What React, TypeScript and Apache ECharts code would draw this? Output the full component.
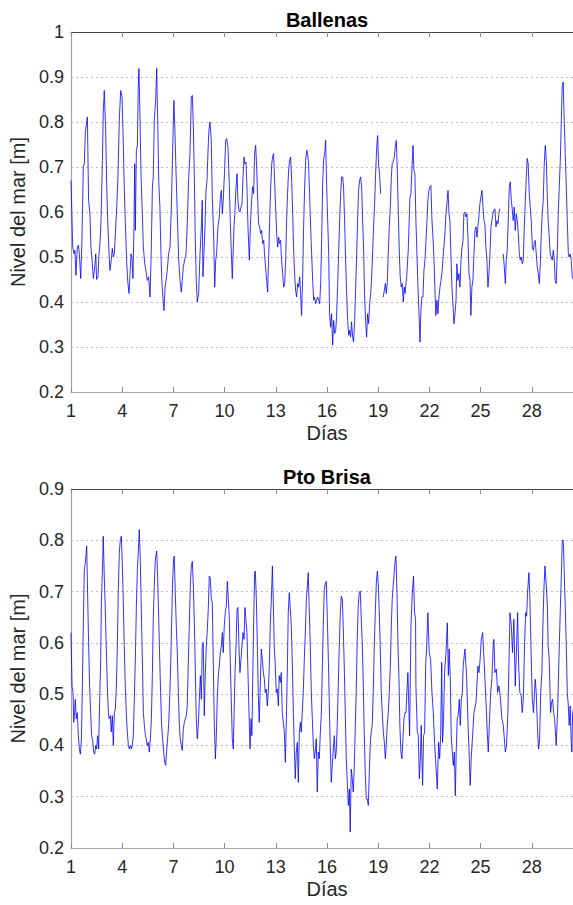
import React, { useEffect, useRef } from 'react';
import * as echarts from 'echarts';

const xTickDays = [1, 4, 7, 10, 13, 16, 19, 22, 25, 28];
const titles = ['Ballenas', 'Pto Brisa'];
const xName = 'Días';
const yName = 'Nivel del mar [m]';
const yRangeBallenas = [0.2, 1.0];
const yRangePtoBrisa = [0.2, 0.9];
const dayRange = [1, 31];

// [day, sea level (m)]; null level = gap in the record
const ballenas: [number, number | null][] = [
[1.00,0.670],[1.10,0.522],[1.18,0.507],[1.23,0.515],[1.29,0.459],[1.37,0.522],[1.43,0.526],[1.49,0.507],[1.57,0.452],[1.64,0.537],[1.72,0.700],[1.78,0.707],[1.84,0.778],[1.92,0.800],[1.96,0.811],[2.03,0.626],[2.11,0.596],[2.17,0.522],[2.25,0.485],[2.31,0.452],[2.39,0.478],[2.45,0.507],[2.50,0.450],[2.58,0.456],[2.64,0.507],[2.70,0.530],[2.76,0.581],[2.84,0.715],[2.89,0.822],[2.95,0.870],[3.03,0.781],[3.09,0.663],[3.15,0.581],[3.23,0.507],[3.28,0.470],[3.36,0.493],[3.42,0.519],[3.48,0.500],[3.54,0.507],[3.62,0.567],[3.68,0.611],[3.75,0.678],[3.83,0.804],[3.91,0.870],[3.99,0.856],[4.07,0.744],[4.12,0.656],[4.18,0.581],[4.26,0.493],[4.32,0.448],[4.40,0.419],[4.46,0.463],[4.52,0.507],[4.57,0.500],[4.63,0.452],[4.69,0.567],[4.73,0.707],[4.77,0.559],[4.83,0.737],[4.89,0.748],[4.94,0.878],[4.98,0.919],[5.04,0.819],[5.10,0.685],[5.18,0.596],[5.24,0.522],[5.32,0.485],[5.39,0.470],[5.47,0.448],[5.55,0.456],[5.63,0.411],[5.69,0.493],[5.77,0.656],[5.82,0.678],[5.88,0.804],[5.96,0.848],[6.02,0.919],[6.08,0.804],[6.14,0.670],[6.21,0.611],[6.27,0.507],[6.33,0.441],[6.39,0.407],[6.45,0.381],[6.51,0.433],[6.57,0.448],[6.64,0.470],[6.72,0.507],[6.80,0.522],[6.88,0.611],[6.96,0.744],[7.03,0.848],[7.09,0.781],[7.15,0.693],[7.23,0.596],[7.31,0.493],[7.39,0.448],[7.46,0.422],[7.52,0.448],[7.58,0.478],[7.66,0.493],[7.74,0.507],[7.82,0.581],[7.89,0.670],[7.97,0.730],[8.05,0.856],[8.11,0.859],[8.17,0.789],[8.23,0.670],[8.28,0.544],[8.34,0.448],[8.40,0.400],[8.48,0.419],[8.56,0.507],[8.64,0.567],[8.69,0.626],[8.73,0.456],[8.79,0.507],[8.85,0.567],[8.91,0.648],[8.97,0.670],[9.03,0.737],[9.08,0.781],[9.14,0.800],[9.22,0.759],[9.28,0.633],[9.36,0.544],[9.42,0.433],[9.48,0.493],[9.53,0.507],[9.61,0.567],[9.69,0.589],[9.75,0.633],[9.81,0.648],[9.87,0.596],[9.92,0.626],[10.00,0.693],[10.06,0.759],[10.12,0.763],[10.20,0.744],[10.28,0.656],[10.33,0.581],[10.39,0.515],[10.45,0.452],
[10.55,0.567],[10.61,0.604],[10.67,0.656],[10.73,0.685],[10.78,0.626],[10.84,0.604],[10.90,0.600],[10.96,0.611],[11.02,0.619],[11.08,0.678],[11.14,0.722],[11.19,0.707],[11.25,0.711],[11.31,0.656],[11.37,0.567],[11.45,0.493],[11.51,0.567],[11.56,0.611],[11.64,0.656],[11.70,0.641],[11.76,0.730],[11.82,0.748],[11.88,0.700],[11.94,0.626],[11.99,0.574],[12.05,0.567],[12.11,0.552],[12.17,0.559],[12.23,0.530],[12.29,0.537],[12.35,0.500],[12.40,0.478],[12.46,0.448],[12.52,0.422],[12.58,0.493],[12.64,0.581],[12.70,0.656],[12.76,0.707],[12.81,0.722],[12.87,0.730],[12.93,0.670],[12.99,0.611],[13.05,0.552],[13.11,0.522],[13.17,0.544],[13.22,0.530],[13.28,0.537],[13.34,0.493],[13.40,0.463],[13.46,0.433],[13.52,0.441],[13.58,0.493],[13.63,0.581],[13.69,0.641],[13.75,0.693],[13.81,0.715],[13.87,0.722],[13.93,0.670],[13.99,0.596],[14.04,0.522],[14.10,0.463],[14.16,0.426],[14.22,0.411],[14.28,0.441],[14.34,0.433],[14.40,0.456],[14.45,0.419],[14.51,0.370],[14.57,0.448],[14.63,0.567],[14.69,0.656],[14.75,0.715],[14.81,0.737],[14.86,0.730],[14.92,0.707],[14.98,0.641],[15.04,0.567],[15.10,0.507],[15.16,0.448],[15.22,0.404],[15.27,0.411],[15.33,0.396],[15.39,0.404],[15.45,0.411],[15.51,0.404],[15.57,0.396],[15.63,0.441],[15.69,0.544],[15.74,0.656],[15.80,0.715],[15.86,0.730],[15.92,0.759],[15.98,0.656],[16.04,0.581],[16.10,0.507],[16.15,0.374],[16.21,0.344],[16.27,0.374],[16.33,0.304],[16.39,0.359],[16.45,0.330],[16.51,0.337],[16.56,0.367],[16.62,0.433],[16.68,0.507],[16.74,0.581],[16.80,0.641],[16.86,0.678],[16.92,0.678],[16.97,0.656],[17.03,0.581],[17.09,0.493],[17.15,0.419],[17.21,0.359],[17.27,0.326],[17.33,0.337],[17.38,0.322],[17.44,0.356],[17.50,0.322],[17.56,0.311],[17.62,0.359],[17.68,0.433],[17.74,0.507],[17.79,0.581],[17.85,0.648],[17.91,0.670],[17.97,0.678],[18.03,0.656],[18.09,0.581],[18.15,0.507],[18.20,0.419],[18.26,0.359],[18.32,0.322],[18.38,0.374],[18.44,0.352],[18.50,0.396],[18.56,0.419],[18.61,0.448],[18.67,0.507],[18.73,0.567],[18.79,0.619],[18.85,0.685],[18.91,0.744],[18.97,0.770],[19.02,0.707],[19.08,0.685],[19.14,0.641],[19.22,null],[19.30,0.411],[19.36,0.426],[19.42,0.441],[19.47,0.419],[19.53,0.441],[19.59,0.507],[19.65,0.567],[19.71,0.611],[19.77,0.678],[19.82,0.707],[19.88,0.711],[19.94,0.722],[20.00,0.744],[20.06,0.759],[20.12,0.693],[20.18,0.596],[20.24,0.507],[20.29,0.456],[20.35,0.433],[20.41,0.441],[20.47,0.400],[20.53,0.433],
[20.57,0.419],[20.67,0.456],[20.76,0.515],[20.86,0.633],[20.92,0.641],[20.98,0.700],[21.04,0.748],[21.09,0.693],[21.15,0.685],[21.21,0.581],[21.27,0.507],[21.33,0.433],[21.39,0.374],[21.45,0.311],[21.50,0.381],[21.56,0.411],[21.62,0.411],[21.68,0.470],[21.74,0.493],[21.80,0.537],[21.86,0.581],[21.91,0.626],[21.97,0.648],[22.03,0.656],[22.09,0.659],[22.15,0.581],[22.21,0.544],[22.27,0.493],[22.32,0.433],[22.38,0.370],[22.44,0.404],[22.50,0.374],[22.56,0.411],[22.62,0.433],[22.68,0.448],[22.73,0.463],[22.79,0.493],[22.85,0.522],[22.91,0.552],[22.97,0.596],[23.03,0.619],[23.09,0.648],[23.15,0.596],[23.20,0.581],[23.26,0.507],[23.32,0.433],[23.38,0.396],[23.44,0.352],[23.50,0.374],[23.56,0.404],[23.61,0.485],[23.67,0.448],[23.73,0.463],[23.79,0.433],[23.85,0.493],[23.91,0.522],[23.97,0.537],[24.02,0.596],[24.08,0.600],[24.14,0.589],[24.20,0.596],[24.26,0.544],[24.32,0.463],[24.38,0.448],[24.43,0.370],[24.49,0.433],[24.55,0.448],[24.61,0.507],[24.67,0.559],[24.73,0.567],[24.79,0.544],[24.84,0.567],[24.90,0.589],[24.96,0.619],[25.02,0.633],[25.08,0.648],[25.14,0.611],[25.20,0.581],[25.25,0.574],[25.31,0.522],[25.37,0.493],[25.43,0.433],[25.49,0.463],[25.55,0.507],[25.61,0.567],[25.66,0.581],[25.72,0.596],[25.78,0.604],[25.84,0.607],[25.90,0.567],[25.96,0.581],[26.02,0.574],[26.07,0.596],[26.13,0.607],[26.23,null],[26.33,0.507],[26.39,0.478],[26.45,0.441],[26.50,0.493],[26.56,0.515],[26.62,0.581],[26.68,0.656],[26.74,0.667],[26.80,0.626],[26.86,0.604],[26.91,0.581],[26.97,0.611],[27.03,0.559],[27.09,0.596],[27.15,0.581],[27.21,0.552],[27.27,0.507],[27.32,0.493],[27.38,0.500],[27.44,0.485],[27.50,0.493],[27.56,0.567],[27.62,0.626],[27.68,0.678],[27.73,0.719],[27.79,0.707],[27.85,0.641],[27.91,0.611],[27.97,0.581],[28.03,0.522],[28.09,0.515],[28.14,0.530],[28.20,0.537],[28.26,0.507],[28.32,0.478],[28.38,0.463],[28.44,0.441],[28.50,0.485],[28.55,0.544],[28.61,0.596],[28.67,0.626],[28.73,0.707],[28.79,0.748],[28.85,0.715],[28.91,0.633],[28.96,0.581],[29.02,0.544],[29.08,0.507],[29.14,0.500],[29.20,0.493],[29.26,0.515],[29.32,0.493],[29.37,0.448],[29.43,0.441],[29.49,0.507],[29.55,0.596],[29.61,0.656],[29.67,0.715],[29.73,0.804],[29.78,0.878],[29.84,0.889],[29.90,0.804],[29.96,0.730],[30.02,0.656],[30.08,0.581],[30.14,0.507],[30.19,0.500],[30.25,0.507],[30.31,0.493],[30.37,0.456],[30.45,0.450]
];

const ptoBrisa: [number, number | null][] = [
[1.00,0.620],[1.06,0.516],[1.12,0.503],[1.16,0.445],[1.21,0.464],[1.25,0.490],[1.31,0.452],[1.37,0.464],[1.43,0.419],[1.49,0.393],[1.55,0.383],[1.61,0.413],[1.66,0.503],[1.72,0.633],[1.78,0.743],[1.84,0.756],[1.92,0.789],[1.98,0.685],[2.03,0.601],[2.09,0.516],[2.15,0.464],[2.21,0.419],[2.27,0.409],[2.33,0.387],[2.39,0.383],[2.45,0.400],[2.50,0.393],[2.56,0.419],[2.62,0.393],[2.68,0.490],[2.74,0.568],[2.78,0.678],[2.82,0.678],[2.86,0.763],[2.89,0.808],[2.95,0.730],[3.01,0.665],[3.07,0.588],[3.13,0.516],[3.19,0.464],[3.24,0.452],[3.30,0.458],[3.36,0.426],[3.42,0.458],[3.48,0.400],[3.54,0.464],[3.60,0.471],[3.66,0.516],[3.72,0.601],[3.77,0.698],[3.83,0.776],[3.89,0.801],[3.95,0.808],[4.01,0.750],[4.07,0.672],[4.12,0.594],[4.18,0.516],[4.24,0.464],[4.30,0.426],[4.36,0.400],[4.42,0.393],[4.48,0.400],[4.54,0.393],[4.59,0.400],[4.65,0.419],[4.71,0.490],[4.77,0.568],[4.83,0.672],[4.89,0.743],[4.94,0.776],[5.00,0.821],[5.06,0.763],[5.12,0.665],[5.18,0.568],[5.24,0.464],[5.30,0.439],[5.36,0.419],[5.41,0.413],[5.47,0.400],[5.53,0.406],[5.59,0.387],[5.65,0.413],[5.71,0.452],[5.77,0.542],[5.82,0.646],[5.88,0.711],[5.94,0.763],[6.02,0.779],[6.08,0.724],[6.14,0.646],[6.19,0.581],[6.25,0.503],[6.31,0.439],[6.37,0.413],[6.43,0.387],[6.49,0.367],[6.55,0.361],[6.60,0.387],[6.66,0.413],[6.72,0.439],[6.78,0.490],[6.84,0.555],[6.90,0.646],[6.96,0.724],[7.01,0.763],[7.05,0.769],[7.11,0.698],[7.17,0.633],[7.23,0.581],[7.29,0.503],[7.35,0.439],[7.40,0.413],[7.46,0.400],[7.52,0.390],[7.58,0.432],[7.64,0.445],[7.70,0.452],[7.76,0.458],[7.81,0.477],[7.87,0.555],[7.93,0.633],[7.99,0.711],[8.05,0.750],[8.11,0.759],[8.17,0.711],[8.23,0.633],[8.28,0.555],[8.34,0.452],[8.40,0.413],[8.46,0.439],[8.52,0.490],[8.58,0.536],[8.64,0.490],[8.69,0.594],[8.75,0.601],[8.81,0.458],[8.87,0.542],[8.93,0.594],[8.99,0.627],[9.05,0.672],[9.10,0.730],[9.16,0.727],[9.22,0.685],[9.28,0.678],[9.34,0.555],[9.40,0.439],[9.46,0.374],[9.51,0.413],[9.57,0.490],[9.63,0.536],[9.69,0.555],[9.75,0.581],[9.81,0.594],[9.87,0.620],[9.92,0.581],[9.98,0.633],[10.04,0.659],[10.10,0.672],[10.16,0.720],[10.22,0.685],[10.28,0.646],[10.33,0.568],[10.39,0.490],[10.45,0.413],[10.51,0.393],
[10.61,0.542],[10.67,0.594],[10.73,0.665],[10.78,0.669],[10.84,0.594],[10.90,0.542],[10.96,0.568],[11.02,0.594],[11.08,0.620],[11.14,0.607],[11.19,0.669],[11.25,0.646],[11.31,0.620],[11.37,0.542],[11.43,0.464],[11.49,0.393],[11.55,0.452],[11.60,0.419],[11.66,0.555],[11.72,0.672],[11.76,0.737],[11.80,0.740],[11.86,0.685],[11.92,0.594],[11.97,0.503],[12.03,0.445],[12.09,0.516],[12.15,0.588],[12.21,0.568],[12.27,0.542],[12.33,0.529],[12.38,0.503],[12.44,0.510],[12.50,0.477],[12.56,0.503],[12.62,0.555],[12.68,0.639],[12.74,0.685],[12.80,0.750],[12.85,0.685],[12.91,0.594],[12.97,0.555],[13.03,0.503],[13.09,0.510],[13.15,0.477],[13.20,0.536],[13.26,0.523],[13.32,0.542],[13.38,0.464],[13.44,0.445],[13.50,0.426],[13.56,0.367],[13.62,0.452],[13.68,0.555],[13.73,0.659],[13.79,0.698],[13.85,0.665],[13.91,0.633],[13.97,0.555],[14.03,0.464],[14.08,0.400],[14.14,0.335],[14.20,0.387],[14.26,0.406],[14.32,0.328],[14.38,0.426],[14.44,0.445],[14.49,0.426],[14.55,0.464],[14.61,0.503],[14.67,0.568],[14.73,0.620],[14.79,0.685],[14.85,0.711],[14.90,0.737],[14.96,0.665],[15.02,0.594],[15.08,0.503],[15.14,0.452],[15.20,0.400],[15.26,0.374],[15.31,0.387],[15.37,0.413],[15.43,0.309],[15.49,0.387],[15.55,0.374],[15.61,0.426],[15.67,0.464],[15.72,0.542],[15.78,0.633],[15.84,0.704],[15.90,0.717],[15.96,0.720],[16.02,0.646],[16.08,0.568],[16.13,0.490],[16.19,0.400],[16.25,0.328],[16.31,0.361],[16.37,0.393],[16.43,0.419],[16.49,0.374],[16.54,0.387],[16.60,0.439],[16.66,0.516],[16.72,0.594],[16.78,0.659],[16.84,0.691],[16.90,0.685],[16.95,0.633],[17.01,0.555],[17.07,0.464],[17.13,0.374],[17.19,0.328],[17.25,0.283],[17.31,0.315],[17.36,0.231],[17.42,0.354],[17.48,0.335],[17.54,0.309],[17.60,0.361],[17.66,0.439],[17.72,0.516],[17.77,0.607],[17.83,0.672],[17.89,0.698],[17.95,0.701],[18.01,0.646],[18.07,0.594],[18.13,0.516],[18.18,0.426],[18.24,0.348],[18.30,0.296],[18.36,0.296],[18.42,0.283],[18.48,0.348],[18.53,0.400],[18.59,0.426],[18.65,0.439],[18.71,0.503],[18.77,0.594],[18.83,0.659],[18.89,0.717],[18.95,0.740],[19.01,0.711],[19.07,0.652],[19.12,0.594],[19.18,0.503],[19.24,0.464],[19.30,0.426],[19.36,0.406],[19.42,0.374],[19.47,0.400],[19.53,0.439],[19.59,0.464],[19.65,0.503],[19.71,0.555],[19.77,0.633],[19.82,0.685],[19.88,0.711],[19.94,0.737],[20.00,0.763],[20.04,0.769],[20.10,0.698],[20.16,0.594],[20.22,0.529],[20.27,0.439],[20.33,0.387],[20.39,0.374],[20.45,0.413],[20.51,0.452],[20.57,0.464],[20.63,0.464],[20.68,0.503],[20.74,0.542],
[20.84,0.419],[20.92,0.633],[21.00,0.698],[21.07,0.730],[21.13,0.659],[21.19,0.646],[21.21,0.516],[21.29,0.426],[21.35,0.419],[21.41,0.335],[21.47,0.374],[21.52,0.439],[21.60,0.322],[21.66,0.419],[21.72,0.426],[21.78,0.555],[21.84,0.594],[21.91,0.659],[21.99,0.581],[22.07,0.568],[22.15,0.503],[22.23,0.464],[22.30,0.406],[22.36,0.374],[22.46,0.315],[22.54,0.406],[22.60,0.374],[22.66,0.419],[22.72,0.562],[22.77,0.406],[22.83,0.452],[22.89,0.542],[22.97,0.581],[23.05,0.639],[23.11,0.536],[23.16,0.588],[23.22,0.536],[23.28,0.419],[23.34,0.387],[23.40,0.361],[23.46,0.387],[23.52,0.302],[23.57,0.387],[23.63,0.452],[23.69,0.458],[23.75,0.490],[23.81,0.439],[23.87,0.490],[23.93,0.503],[23.98,0.555],[24.08,0.588],[24.18,0.536],[24.28,0.426],[24.34,0.374],[24.39,0.322],[24.45,0.374],[24.53,0.419],[24.61,0.464],[24.73,0.484],[24.84,0.555],[24.90,0.542],[24.96,0.562],[25.04,0.607],[25.12,0.620],[25.20,0.568],[25.31,0.490],[25.39,0.426],[25.45,0.387],[25.51,0.439],[25.59,0.503],[25.66,0.529],[25.74,0.594],[25.78,0.607],[25.84,0.542],[25.92,0.549],[26.00,0.503],[26.07,0.516],[26.13,0.503],[26.25,0.452],[26.33,0.439],[26.45,0.387],[26.52,0.400],[26.60,0.464],[26.66,0.555],[26.72,0.659],[26.80,0.633],[26.87,0.581],[26.95,0.646],[27.03,0.516],[27.11,0.594],[27.17,0.659],[27.23,0.555],[27.30,0.503],[27.38,0.497],[27.44,0.464],[27.50,0.490],[27.58,0.601],[27.64,0.659],[27.70,0.652],[27.75,0.698],[27.83,0.737],[27.89,0.685],[27.95,0.594],[28.03,0.490],[28.10,0.464],[28.20,0.529],[28.26,0.503],[28.34,0.426],[28.40,0.393],[28.46,0.413],[28.52,0.503],[28.59,0.542],[28.65,0.633],[28.71,0.704],[28.77,0.750],[28.85,0.711],[28.91,0.672],[28.96,0.594],[29.02,0.568],[29.10,0.464],[29.16,0.484],[29.22,0.490],[29.28,0.464],[29.34,0.452],[29.43,0.400],[29.51,0.464],[29.59,0.568],[29.67,0.665],[29.73,0.730],[29.78,0.795],[29.82,0.801],[29.86,0.789],[29.92,0.711],[29.96,0.672],[30.02,0.594],[30.08,0.503],[30.14,0.477],[30.19,0.439],[30.25,0.477],[30.31,0.406],[30.35,0.387],[30.39,0.464],[30.45,0.470]
];

const FONT = '"Liberation Sans", Arial, Helvetica, sans-serif';
const TXT = '#262626';
const AXIS_LIGHT = '#a3a3a3';
const AXIS_DARK = '#454545';

const toSeriesData = (pts: [number, number | null][]) =>
  pts.map(([d, v]) => (v === null ? [d, '-'] : [d, v]));

export default function App() {
  const ref = useRef<HTMLDivElement>(null);
  useEffect(() => {
    const chart = echarts.init(ref.current!, null, { renderer: 'svg' });
    const panels = [
      { top: 32, height: 360, range: yRangeBallenas, data: ballenas, title: titles[0], titleY: 20 },
      { top: 489, height: 359, range: yRangePtoBrisa, data: ptoBrisa, title: titles[1], titleY: 477 },
    ];
    const left = 71;
    const width = 512;
    const grid: any[] = [];
    const xAxis: any[] = [];
    const yAxis: any[] = [];
    const series: any[] = [];
    const graphic: any[] = [];
    panels.forEach((p, i) => {
      grid.push({ left, top: p.top, width, height: p.height, containLabel: false, outerBoundsMode: 'none' });
      xAxis.push({
        type: 'value', gridIndex: i, position: 'bottom', min: dayRange[0], max: dayRange[1],
        axisLine: { show: true, onZero: false, lineStyle: { color: AXIS_LIGHT, width: 1.2 } },
        axisTick: { show: true, inside: true, length: 5, customValues: xTickDays, lineStyle: { color: '#8a8a8a' } },
        axisLabel: { show: true, customValues: xTickDays, fontSize: 18, color: TXT, margin: 10, fontFamily: FONT },
        splitLine: { show: false },
        name: xName, nameLocation: 'middle', nameGap: 31,
        nameTextStyle: { fontSize: 20, color: TXT, fontFamily: FONT },
      });
      xAxis.push({
        type: 'value', gridIndex: i, position: 'top', min: dayRange[0], max: dayRange[1],
        axisLine: { show: true, onZero: false, lineStyle: { color: AXIS_DARK, width: 1 } },
        axisTick: { show: true, inside: true, length: 5, customValues: xTickDays, lineStyle: { color: '#8a8a8a' } },
        axisLabel: { show: false },
        splitLine: { show: false },
        z: 3,
      });
      yAxis.push({
        type: 'value', gridIndex: i, min: p.range[0], max: p.range[1], interval: 0.1,
        axisLine: { show: true, onZero: false, lineStyle: { color: AXIS_LIGHT, width: 1.2 } },
        axisTick: { show: false },
        axisLabel: {
          fontSize: 18, color: TXT, margin: 7, fontFamily: FONT,
          formatter: (v: number) => String(Math.round(v * 10) / 10),
        },
        splitLine: { show: true, lineStyle: { color: '#bdbdbd', width: 1, type: [2, 3] } },
        name: yName, nameLocation: 'middle', nameGap: 38, nameRotate: 90,
        nameTextStyle: { fontSize: 20, color: TXT, fontFamily: FONT },
      });
      series.push({
        type: 'line', xAxisIndex: i * 2, yAxisIndex: i, data: toSeriesData(p.data),
        showSymbol: false, symbol: 'none', silent: true, clip: true, connectNulls: false,
        lineStyle: { color: '#0000ff', width: 0.8 }, itemStyle: { color: '#0000ff' },
      });
      graphic.push({
        type: 'text', x: left + width / 2, y: p.titleY,
        style: {
          text: p.title, fill: '#000', font: `bold 20px ${FONT}`,
          align: 'center', verticalAlign: 'middle', textAlign: 'center', textVerticalAlign: 'middle',
        },
      });
    });
    chart.setOption({
      animation: false,
      backgroundColor: '#fff',
      grid, xAxis, yAxis, series, graphic,
    });
    return () => chart.dispose();
  }, []);
  return (
    <div style={{ position: 'fixed', left: 0, top: 0, width: 573, height: 905, overflow: 'hidden', background: '#fff' }}>
      <div ref={ref} style={{ width: 600, height: 905 }} />
    </div>
  );
}
